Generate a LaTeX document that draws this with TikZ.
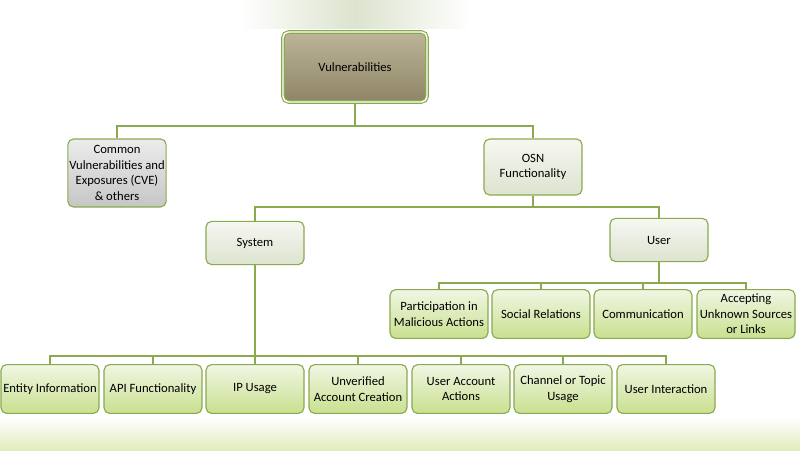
\documentclass[tikz,border=0pt]{standalone}
\usepackage{fontspec}
\setmainfont{Carlito}
\usetikzlibrary{positioning}
\definecolor{edge}{HTML}{8AAA4E}
\definecolor{leafTop}{HTML}{F0F6E4}
\definecolor{leafBot}{HTML}{C9E08F}
\definecolor{midTop}{HTML}{F6F7F2}
\definecolor{midBot}{HTML}{DCE3CE}
\definecolor{rootTop}{HTML}{BDB598}
\definecolor{rootBot}{HTML}{8E8566}
\tikzset{box/.style={draw=edge, line width=0.8pt, rounded corners=4pt, align=center,
    font=\small, inner sep=1pt},
  leaf/.style={box, top color=leafTop, bottom color=leafBot, minimum width=2.45cm, minimum height=1.22cm},
  mid/.style={box, top color=midTop, bottom color=midBot, minimum width=2.45cm},
  link/.style={draw=edge, line width=0.8pt}}
\begin{document}
\begin{tikzpicture}[x=0.025cm,y=-0.025cm]
\useasboundingbox (0,0) rectangle (800,450);
\shade[top color=white, bottom color=leafBot!60] (0,418) rectangle (800,450);
\shade[left color=white, right color=white, middle color=midBot] (240,0) rectangle (470,28);

\node[box, top color=rootTop, bottom color=rootBot, double=white, double distance=1pt,
  minimum width=3.6cm, minimum height=1.75cm] (vul) at (355,67) {Vulnerabilities};
\node[box, top color=gray!15, bottom color=gray!45, minimum width=2.45cm, minimum height=1.7cm] (cve) at (117,173)
  {Common\\Vulnerabilities and\\Exposures (CVE)\\\& others};
\node[mid, minimum height=1.4cm] (osn) at (533,167) {OSN\\Functionality};
\node[mid, minimum height=1.08cm] (sys) at (255,243) {System};
\node[mid, minimum height=1.08cm] (usr) at (659,240) {User};

\node[leaf] (part) at (439,314) {Participation in\\Malicious Actions};
\node[leaf] (soc) at (541,314) {Social Relations};
\node[leaf] (comm) at (643,314) {Communication};
\node[leaf] (acc) at (746,314) {Accepting\\Unknown Sources\\or Links};

\node[leaf] (ent) at (50,389) {Entity Information};
\node[leaf] (api) at (153,389) {API Functionality};
\node[leaf] (ip) at (255,389) {IP Usage};
\node[leaf] (unv) at (358,389) {Unverified\\Account Creation};
\node[leaf] (uac) at (461,389) {User Account\\Actions};
\node[leaf] (chn) at (563,389) {Channel or Topic\\Usage};
\node[leaf] (uin) at (666,389) {User Interaction};

% buses
\draw[link] (vul.south) |- (117,126) -- (cve.north);
\draw[link] (vul.south) |- (533,126) -- (osn.north);
\foreach \c in {sys,usr}
  \draw[link] (osn.south) |- (\c.north |- 0,207) -- (\c.north);
\foreach \c in {part,soc,comm,acc}
  \draw[link] (usr.south) |- (\c.north |- 0,283) -- (\c.north);
\foreach \c in {ent,api,ip,unv,uac,chn,uin}
  \draw[link] (sys.south) |- (\c.north |- 0,356) -- (\c.north);
\end{tikzpicture}
\end{document}
